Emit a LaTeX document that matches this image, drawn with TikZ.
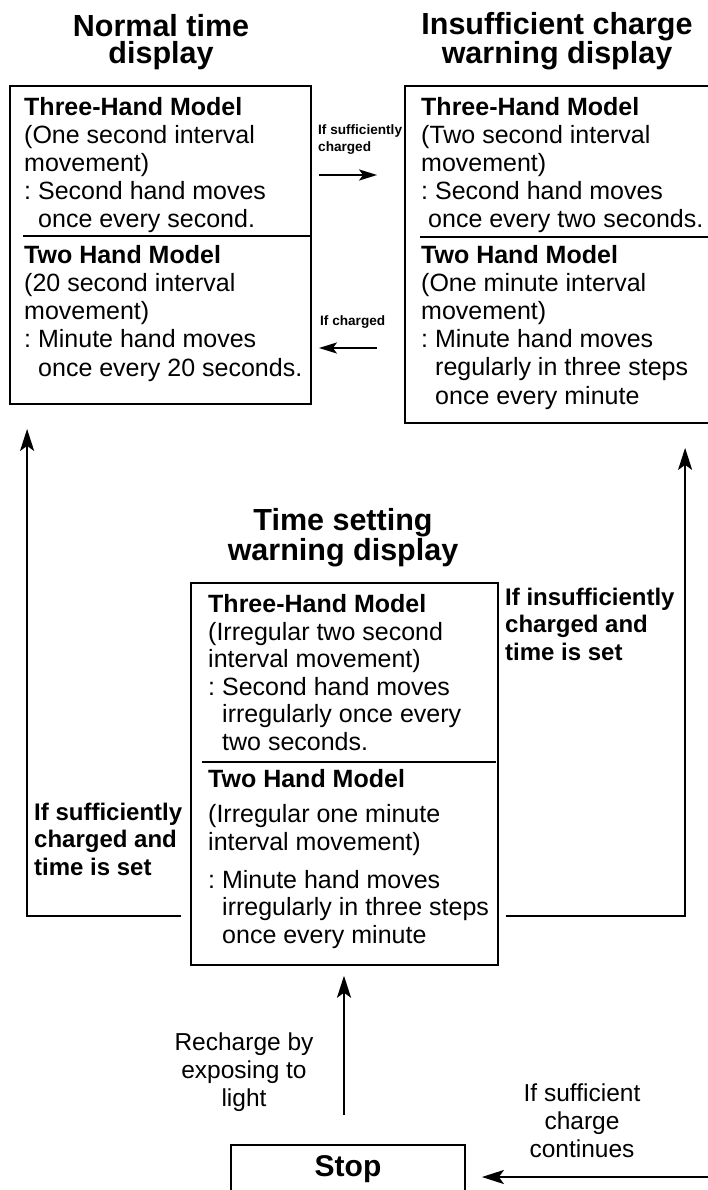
\documentclass[tikz,border=0pt]{standalone}
\usepackage{fontspec}
\setmainfont{Liberation Sans}
\frenchspacing
\usetikzlibrary{arrows.meta,calc}
\tikzset{
  frame/.style={draw, line width=1.8pt, inner sep=0pt},
  body/.style={anchor=base west, inner sep=0pt, align=left, font=\fontsize{25}{28.2}\selectfont},
  bodym/.style={body, font=\fontsize{25}{27.5}\selectfont},
  heading/.style={anchor=base, inner sep=0pt, align=center, font=\fontsize{30.5}{27.5}\selectfont\bfseries},
  cond/.style={anchor=base west, inner sep=0pt, align=left, font=\fontsize{24}{27.5}\selectfont\bfseries},
  small/.style={anchor=base west, inner sep=0pt, align=left, font=\fontsize{13.6}{17}\selectfont\bfseries},
  note/.style={anchor=base, inner sep=0pt, align=center, font=\fontsize{24.5}{28}\selectfont},
  flow/.style={line width=2.2pt, -{Stealth[length=22pt,width=14pt,inset=5pt]}},
  flowsmall/.style={line width=2pt, -{Stealth[length=18pt,width=11pt,inset=4pt]}},
  divider/.style={line width=1.5pt},
}
\begin{document}
\begin{tikzpicture}[x=1pt,y=1pt]
\useasboundingbox (0,0) rectangle (708,-1190);
\fill[white] (0,0) rectangle (708,-1190);
% boxes
\node[frame, minimum width=301pt, minimum height=318pt] (A) at (160.5,-245) {};
\node[frame, minimum width=305pt, minimum height=337pt] (B) at (557.5,-254.5) {};
\node[frame, line width=1.4pt, minimum width=307pt, minimum height=382pt] (M) at (344.5,-774) {};
\node[frame, anchor=north, text height=32pt, text depth=38pt, minimum width=234pt,
      font=\fontsize{30}{30}\selectfont\bfseries] (stop) at (348,-1144) {Stop};
% titles (anchored at the baseline of the last line)
\node[heading] (t1) at (161,-64) {Normal time\\display};
\node[heading] (t2) at (557,-64) {Insufficient charge\\warning display};
\node[heading] (t3) at (343,-560) {Time setting\\warning display};
% box texts
\node[body] (a1) at (24,-228) {\textbf{Three-Hand Model}\\(One second interval\\movement)\\: Second hand moves\\\hspace*{14pt}once every second.};
\node[body] (a2) at (24,-376) {\textbf{Two Hand Model}\\(20 second interval\\movement)\\: Minute hand moves\\\hspace*{14pt}once every 20 seconds.};
\node[body] (b1) at (421,-228) {\textbf{Three-Hand Model}\\(Two second interval\\movement)\\: Second hand moves\\\hspace*{7pt}once every two seconds.};
\node[body] (b2) at (421,-404) {\textbf{Two Hand Model}\\(One minute interval\\movement)\\: Minute hand moves\\\hspace*{14pt}regularly in three steps\\\hspace*{14pt}once every minute};
\node[bodym] (m1) at (208,-750) {\textbf{Three-Hand Model}\\(Irregular two second\\interval movement)\\: Second hand moves\\\hspace*{14pt}irregularly once every\\\hspace*{14pt}two seconds.};
\node[bodym] (m2) at (208,-943) {\textbf{Two Hand Model}\\[7.5pt](Irregular one minute\\interval movement)\\[10.5pt]: Minute hand moves\\\hspace*{14pt}irregularly in three steps\\\hspace*{14pt}once every minute};
% dividers
\coordinate (dA) at (0,-236);
\coordinate (dB) at (0,-237);
\coordinate (dM) at (0,-762);
\draw[divider] ($(A.west|-dA)+(14,0)$) -- ($(A.east|-dA)+(-2,0)$);
\draw[divider] ($(B.west|-dB)+(16,0)$) -- (B.east|-dB);
\draw[divider] ($(M.west|-dM)+(12,0)$) -- ($(M.east|-dM)+(-3,0)$);
% labels
\node[small] (l1) at (318,-152) {If sufficiently\\charged};
\node[small] (l2) at (320,-325) {If charged};
\node[cond] (l3) at (34,-875) {If sufficiently\\charged and\\time is set};
\node[cond] (l4) at (505,-660) {If insufficiently\\charged and\\time is set};
\node[note] (l5) at (244,-1106) {Recharge by\\exposing to\\light};
\node[note] (l6) at (582,-1157) {If sufficient\\charge\\continues};
% connectors
\coordinate (y1) at (0,-175);
\coordinate (y2) at (0,-348);
\draw[flowsmall] ($(A.east|-y1)+(7,0)$) -- ($(B.west|-y1)+(-27,0)$);
\draw[flowsmall] ($(B.west|-y2)+(-27,0)$) -- ($(A.east|-y2)+(7,0)$);
\coordinate (yL) at (0,-916);
\draw[flow] ($(M.west|-yL)+(-9,0)$) -| ($(A.south west)+(18,-24)$);
\draw[flow] ($(M.east|-yL)+(7,0)$) -| ($(B.south west)+(281,-24)$);
\coordinate (s1) at ($(stop.north)+(-4,29)$);
\draw[flow] (s1) -- ($(s1|-M.south)+(0,-10)$);
\coordinate (e1) at (712,-1177);
\draw[flow] (e1) -- ($(stop.east|-e1)+(16,0)$);
\end{tikzpicture}
\end{document}
